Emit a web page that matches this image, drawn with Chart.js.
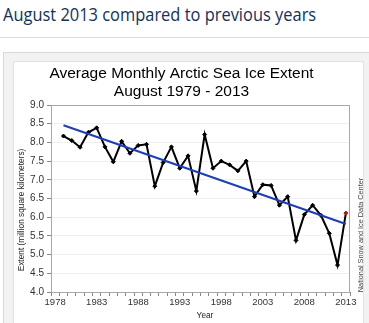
<!DOCTYPE html>
<html>
<head>
<meta charset="utf-8">
<script src="https://cdn.jsdelivr.net/npm/chart.js@4.4.0/dist/chart.umd.min.js"></script>
<style>
  html, body { margin: 0; padding: 0; background: #fff; overflow: hidden; }
  body { width: 369px; height: 323px; position: relative; }
  #header {
    position: absolute; left: 3px; top: 5px; white-space: nowrap;
    font-family: "Open Sans", sans-serif; font-size: 19px; line-height: 19px;
    color: #12325a; transform-origin: 0 0;
  }
  #rule { position: absolute; left: 0; top: 37px; width: 369px; height: 1px; background: #dcdcdc; }
  #outer {
    position: absolute; left: 3px; top: 52px; width: 380px; height: 300px;
    border: 1px solid #d8d8d8; background: #f2f2f2;
  }
  #inner {
    position: absolute; left: 13px; top: 61px; width: 349px; height: 300px;
    border: 1px solid #e2e2e2; background: #fff;
  }
  #wrap { position: absolute; left: 0; top: 0; width: 369px; height: 323px; }
</style>
</head>
<body>
<div id="header"><span id="headerText">August 2013 compared to previous years</span></div>
<div id="rule"></div>
<div id="outer"></div>
<div id="inner"></div>
<div id="wrap"><canvas id="myChart" width="369" height="323"></canvas></div>
<script>
// squeeze the heading to the width it has in the picture
var head = document.getElementById("header");
var headW = document.getElementById("headerText").offsetWidth;
head.style.transform = "scaleX(" + (313 / headW) + ")";

// data (million sq km)
const years = [
  "1978", "1979", "1980", "1981", "1982", "1983", "1984", "1985", "1986", "1987",
  "1988", "1989", "1990", "1991", "1992", "1993", "1994", "1995", "1996", "1997",
  "1998", "1999", "2000", "2001", "2002", "2003", "2004", "2005", "2006", "2007",
  "2008", "2009", "2010", "2011", "2012", "2013",
];
const extent = [
  null, 8.17, 8.05, 7.87, 8.27, 8.39, 7.88, 7.48, 8.03, 7.71,
  7.92, 7.95, 6.83, 7.46, 7.88, 7.31, 7.64, 6.70, 8.21, 7.31,
  7.50, 7.40, 7.24, 7.50, 6.55, 6.87, 6.85, 6.32, 6.55, 5.38,
  6.07, 6.32, 6.05, 5.57, 4.72, 6.11,
];
// trend line, only its two ends are drawn
const trendYears = ["1979", "2013"];
const trendValues = [8.46, 5.82];
const yTicks = [4.0, 4.5, 5.0, 5.5, 6.0, 6.5, 7.0, 7.5, 8.0, 8.5, 9.0];
const xTickLabels = ["1978", "1983", "1988", "1993", "1998", "2003", "2008", "2013"];

const chartTitle = ["Average Monthly Arctic Sea Ice Extent", "August 1979 - 2013"];
const yTitle = "Extent (million square kilometers)";
const xTitle = "Year";
const sideNote = "National Snow and Ice Data Center";

let trendData = years.map(function (y) {
  let k = trendYears.indexOf(y);
  return k >= 0 ? trendValues[k] : null;
});

const fontFam = '"Liberation Sans", Arial, sans-serif';

// frame round the plot plus the rotated texts
const extras = {
  id: "extras",
  beforeDatasetsDraw: function (chart) {
    let a = chart.chartArea;
    let c = chart.ctx;
    c.save();
    c.strokeStyle = "#a8a8a8";
    c.lineWidth = 1;
    c.strokeRect(a.left + 0.5, a.top + 0.5, a.right - a.left - 1, a.bottom - a.top);
    c.restore();
  },
  afterDraw: function (chart) {
    let c = chart.ctx;
    c.save();
    c.textAlign = "center";
    c.textBaseline = "middle";
    c.fillStyle = "#222";
    c.font = "8.3px " + fontFam;
    c.translate(22, 210);
    c.rotate(-Math.PI / 2);
    c.fillText(yTitle, 0, 0);
    c.restore();

    c.save();
    c.textAlign = "center";
    c.textBaseline = "middle";
    c.fillStyle = "#222";
    c.font = "8.3px " + fontFam;
    c.fillText(xTitle, 205, 316);
    c.restore();

    c.save();
    c.textAlign = "center";
    c.textBaseline = "middle";
    c.fillStyle = "#444";
    c.font = "7.3px " + fontFam;
    c.translate(361, 235);
    c.rotate(-Math.PI / 2);
    c.fillText(sideNote, 0, 0);
    c.restore();
  },
};

var ctx = document.getElementById("myChart").getContext("2d");

var chart = new Chart(ctx, {
  type: "line",
  data: {
    labels: years,
    datasets: [
      {
        label: "trend",
        data: trendData,
        borderColor: "#1c3fb8",
        borderWidth: 2,
        pointRadius: 0,
        spanGaps: true,
        order: 0,
      },
      {
        label: "extent",
        data: extent,
        borderColor: "#000",
        borderWidth: 2,
        pointRadius: 2,
        pointStyle: "rectRot",
        pointBackgroundColor: function (c) {
          return c.dataIndex === years.length - 1 ? "#c0120c" : "#000";
        },
        pointBorderColor: function (c) {
          return c.dataIndex === years.length - 1 ? "#c0120c" : "#000";
        },
        pointBorderWidth: 1,
        tension: 0,
        order: 1,
      },
    ],
  },
  options: {
    responsive: false,
    animation: false,
    devicePixelRatio: 1,
    layout: { padding: { left: 13, right: 19, top: 0, bottom: 0 } },
    plugins: {
      legend: { display: false },
      tooltip: { enabled: false },
      title: {
        display: true,
        text: chartTitle,
        color: "#000",
        font: { family: fontFam, size: 15.5, weight: "normal", lineHeight: 18 / 15.5 },
        padding: { top: 65, bottom: 4 },
      },
    },
    scales: {
      x: {
        type: "category",
        offset: true,
        afterFit: function (s) { s.height = 31; },
        grid: {
          offset: true,
          drawOnChartArea: false,
          tickLength: 4,
          tickColor: "#888",
        },
        border: { color: "#888" },
        ticks: {
          autoSkip: false,
          maxRotation: 0,
          padding: 1,
          color: "#333",
          font: { family: fontFam, size: 9.5 },
          callback: function (v, i) {
            let lab = years[i];
            return xTickLabels.indexOf(lab) >= 0 ? lab : "";
          },
        },
      },
      y: {
        min: 4,
        max: 9,
        afterFit: function (s) { s.width = 38; },
        afterBuildTicks: function (s) {
          s.ticks = yTicks.map(function (v) { return { value: v }; });
        },
        grid: { color: "#efefef", tickLength: 4, tickColor: "#888" },
        border: { color: "#888" },
        ticks: {
          padding: 3,
          color: "#333",
          font: { family: fontFam, size: 10 },
          callback: function (v) { return v.toFixed(1); },
        },
      },
    },
  },
  plugins: [extras],
});
</script>
</body>
</html>
